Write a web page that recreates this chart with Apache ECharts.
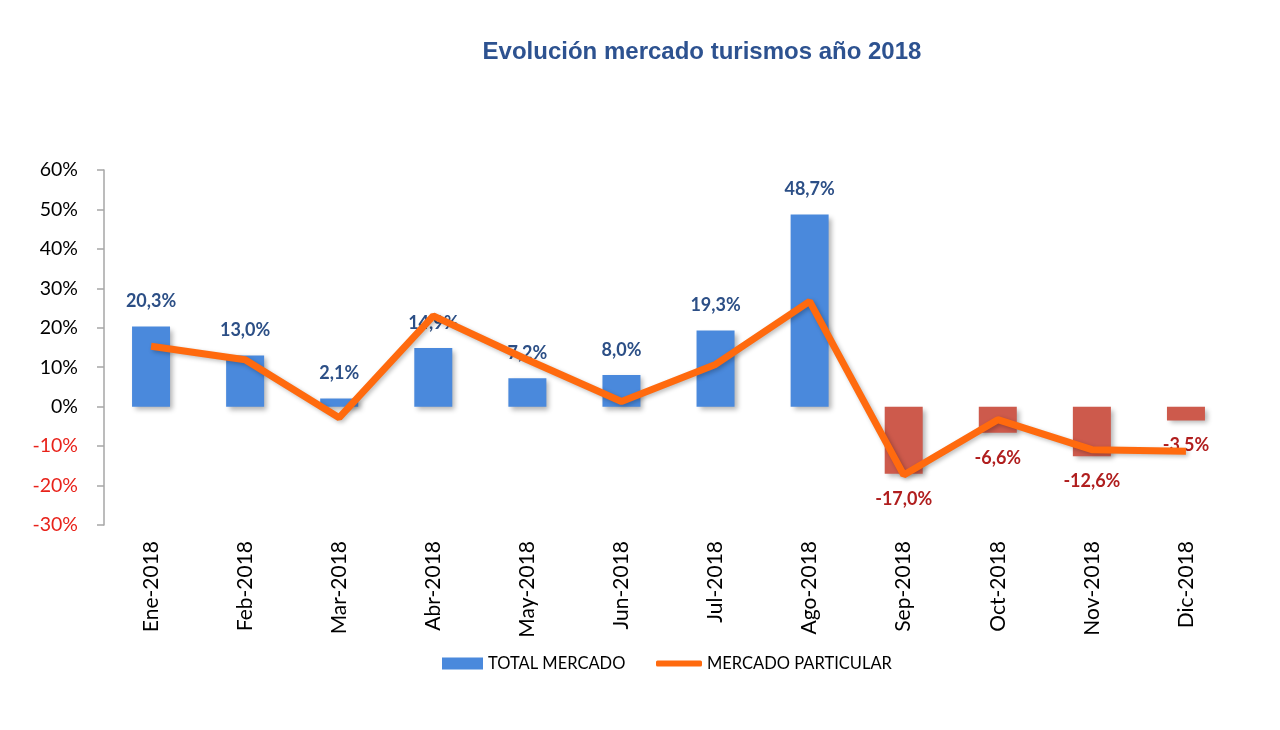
<!DOCTYPE html>
<html>
<head>
<meta charset="utf-8">
<title>Evolución mercado turismos año 2018</title>
<script src="https://cdn.jsdelivr.net/npm/echarts@6/dist/echarts.min.js"></script>
<style>
  html, body { margin: 0; padding: 0; background: #fff; }
  #main { width: 1280px; height: 730px; }
</style>
</head>
<body>
<div id="main"></div>
<script>
// datos
var meses = ['Ene-2018', 'Feb-2018', 'Mar-2018', 'Abr-2018', 'May-2018', 'Jun-2018',
             'Jul-2018', 'Ago-2018', 'Sep-2018', 'Oct-2018', 'Nov-2018', 'Dic-2018'];
var totalMercado = [20.3, 13.0, 2.1, 14.9, 7.2, 8.0, 19.3, 48.7, -17.0, -6.6, -12.6, -3.5];
var mercadoParticular = [15.3, 11.9, -2.8, 23.0, 11.9, 1.3, 10.7, 26.7, -17.3, -3.3, -10.9, -11.3];

var AZUL = '#4a89dc', ROJO = '#cd5a4c', NARANJA = '#ff6a0e';
var fuente = 'Lato, "Open Sans", sans-serif';

var chart = echarts.init(document.getElementById('main'));

// etiquetas arriba si positivo, abajo si negativo
var barData = totalMercado.map(function (v) {
  return {
    value: v,
    itemStyle: { color: v >= 0 ? AZUL : ROJO },
    label: { position: v >= 0 ? 'top' : 'bottom' }
  };
});

var option = {
  backgroundColor: '#fff',
  animation: false,
  title: {
    text: 'Evolución mercado turismos año 2018',
    left: 697,
    textAlign: 'center',
    top: 35,
    textStyle: {
      fontFamily: '"Liberation Sans", Arial, sans-serif',
      fontSize: 24,
      fontWeight: 'bold',
      color: '#2d5290'
    }
  },
  legend: [{
    data: ['TOTAL MERCADO'],
    left: 437,
    top: 650,
    icon: 'rect',
    itemWidth: 41,
    itemHeight: 12,
    itemGap: 4,
    textStyle: { fontFamily: fuente, fontSize: 16.5, color: '#000' }
  }, {
    data: ['MERCADO PARTICULAR'],
    left: 651,
    top: 650,
    icon: 'roundRect',
    itemWidth: 46,
    itemHeight: 6,
    textStyle: { fontFamily: fuente, fontSize: 16.5, color: '#000' }
  }],
  grid: {
    left: 104,
    right: 47,
    top: 170,
    bottom: 205
  },
  xAxis: {
    type: 'category',
    data: meses,
    axisLine: { show: false },
    axisTick: { show: false },
    axisLabel: {
      rotate: 90,
      margin: 16,
      fontFamily: fuente,
      fontSize: 21,
      color: '#000'
    }
  },
  yAxis: {
    type: 'value',
    min: -30,
    max: 60,
    interval: 10,
    splitLine: { show: false },
    axisLine: { show: true, lineStyle: { color: '#a6a6a6', width: 1.5 } },
    axisTick: { show: true, length: 7, lineStyle: { color: '#a6a6a6', width: 1.5 } },
    axisLabel: {
      margin: 26,
      fontFamily: fuente,
      fontSize: 19.5,
      formatter: '{value}%',
      color: function (v) { return Number(v) < 0 ? '#e8221a' : '#000'; }
    }
  },
  series: [{
    name: 'TOTAL MERCADO',
    type: 'bar',
    data: barData,
    barWidth: 38,
    itemStyle: {
      color: AZUL,
      shadowColor: 'rgba(0,0,0,0.3)',
      shadowBlur: 5,
      shadowOffsetX: 3,
      shadowOffsetY: 3
    },
    label: {
      show: true,
      distance: 16,
      fontFamily: fuente,
      fontSize: 18,
      fontWeight: 'bold',
      formatter: function (p) {
        var s = p.value.toFixed(1).replace('.', ',') + '%';
        return p.value >= 0 ? '{p|' + s + '}' : '{n|' + s + '}';
      },
      rich: {
        p: { color: '#2c4f86', fontFamily: fuente, fontSize: 18, fontWeight: 'bold' },
        n: { color: '#b01e1e', fontFamily: fuente, fontSize: 18, fontWeight: 'bold' }
      }
    },
    z: 2
  }, {
    name: 'MERCADO PARTICULAR',
    type: 'line',
    data: mercadoParticular,
    symbol: 'none',
    lineStyle: {
      color: NARANJA,
      width: 7,
      shadowColor: 'rgba(0,0,0,0.25)',
      shadowBlur: 4,
      shadowOffsetX: 2,
      shadowOffsetY: 2
    },
    itemStyle: { color: NARANJA },
    z: 3
  }]
};

chart.setOption(option);
</script>
</body>
</html>
